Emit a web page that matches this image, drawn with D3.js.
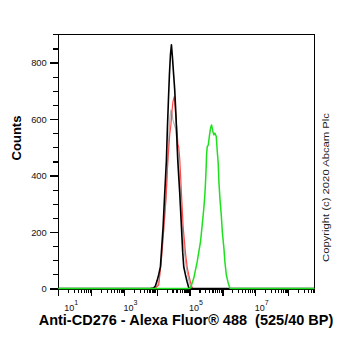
<!DOCTYPE html>
<html><head><meta charset="utf-8">
<script src="https://cdn.jsdelivr.net/npm/d3@7"></script>
<style>body{margin:0;background:#fff} svg{display:block}</style>
</head><body>
<script>
// ---- data ----
const yTickValues = [0, 200, 400, 600, 800];
const xTickExponents = [1, 3, 5, 7];
const xTitle = "Anti-CD276 - Alexa Fluor® 488  (525/40 BP)";
const yTitle = "Counts";
const copyright = "Copyright (c) 2020 Abcam Plc";

const blackX = [10, 5000, 6370, 8040, 9060, 10200, 11400, 12900, 13800, 15600, 17500, 19700, 21100, 22700, 24300, 26100, 28000, 30000, 32200, 35200, 38400, 41200, 43600, 46800, 50100, 56500, 61900, 66500, 75000, 84500, 94600, 106600, 6.3e8];
const blackY = [0, 0, 0, 2, 9, 27, 48, 76, 126, 218, 338, 455, 568, 668, 757, 827, 863, 820, 768, 704, 615, 526, 455, 395, 338, 218, 126, 76, 48, 23, 2, 0, 0];

const redX = [10, 6370, 9060, 11430, 13530, 16260, 19240, 21540, 24790, 26990, 28960, 31050, 34040, 35790, 38370, 41210, 44160, 46770, 50120, 56490, 63680, 74990, 84530, 94620, 106600, 120200, 131600, 6.3e8];
const redY = [0, 0, 2, 12, 90, 207, 324, 445, 544, 579, 625, 661, 679, 650, 604, 562, 510, 500, 460, 338, 218, 126, 76, 48, 23, 2, 0, 0];

const grayX = [10, 6370, 9720, 11590, 13830, 16480, 18970, 21090, 23440, 25170, 26990, 28960, 31050, 34510, 38370, 42660, 47430, 52720, 59810, 69820, 79250, 89330, 99310, 110400, 122700, 6.3e8];
const grayY = [0, 0, 5, 23, 101, 214, 314, 420, 544, 604, 632, 622, 597, 579, 562, 491, 420, 338, 218, 126, 76, 44, 19, 2, 0, 0];

const greenX = [10, 92500, 106600, 134400, 170700, 215400, 242700, 271600, 291700, 306400, 322100, 328900, 345100, 370700, 406100, 435500, 467700, 512100, 549400, 589600, 650300, 698000, 749900, 782200, 839200, 924900, 993100, 1112000, 1191000, 1315000, 1514000, 1694000, 2051000, 6.3e8];
const greenY = [0, 0, 2, 37, 95, 166, 225, 284, 331, 378, 438, 473, 502, 508, 544, 568, 579, 556, 544, 550, 538, 485, 438, 378, 320, 260, 201, 142, 95, 48, 18, 1, 0, 0];

// ---- chart ----
const W = 362, H = 351;
const L = 58.3, R = 314.3, T = 34.3, B = 289.5;
const svg = d3.select("body").append("svg").attr("width", W).attr("height", H)
  .style("font-family", "'Liberation Sans', Arial, sans-serif");

const x = d3.scaleLog().domain([10, Math.pow(10, 8.8)]).range([L, R]);
const y = d3.scaleLinear().domain([0, 900]).range([288.5, T]);

// y axis minor + major
const yMinor = d3.range(0, 901, 50);
const gyMin = svg.append("g").attr("transform", `translate(${L},0)`)
  .call(d3.axisLeft(y).tickValues(yMinor).tickSize(5).tickFormat(""));
const gyMaj = svg.append("g").attr("transform", `translate(${L},0)`)
  .call(d3.axisLeft(y).tickValues(yTickValues).tickSize(8).tickPadding(3.5).tickFormat(d3.format("d")));
[gyMin, gyMaj].forEach(g => {
  g.select(".domain").remove();
  g.selectAll("line").attr("stroke", "#000").attr("stroke-width", 1.2).attr("shape-rendering", "crispEdges");
});
gyMaj.selectAll("text").attr("font-size", 9.4).attr("fill", "#111").attr("font-family", "'Liberation Sans', Arial, sans-serif");

// x axis minor + major
const xMinor = [];
for (let e = 1; e <= 8; e++) for (let m = 2; m <= 9; m++) { const v = m * Math.pow(10, e); if (v <= Math.pow(10, 8.8)) xMinor.push(v); }
const xMajor = d3.range(1, 9).map(e => Math.pow(10, e));
const gxMin = svg.append("g").attr("transform", `translate(0,${B})`)
  .call(d3.axisBottom(x).tickValues(xMinor).tickSize(3.5).tickFormat(""));
const gxMaj = svg.append("g").attr("transform", `translate(0,${B})`)
  .call(d3.axisBottom(x).tickValues(xMajor).tickSize(6).tickFormat(""));
[gxMin, gxMaj].forEach(g => {
  g.select(".domain").remove();
  g.selectAll("line").attr("stroke", "#000").attr("stroke-width", 1.2).attr("shape-rendering", "crispEdges");
});

// frame
const frame = svg.append("g").attr("stroke", "#000").attr("stroke-width", 1.3).attr("shape-rendering", "crispEdges");
frame.append("line").attr("x1", L).attr("x2", L).attr("y1", T).attr("y2", B);
frame.append("line").attr("x1", L).attr("x2", R).attr("y1", B).attr("y2", B);
frame.append("line").attr("x1", L).attr("x2", R).attr("y1", T).attr("y2", T);
frame.append("line").attr("x1", R).attr("x2", R).attr("y1", T).attr("y2", B);

// x tick labels
xTickExponents.forEach(e => {
  const t = svg.append("text").attr("x", x(Math.pow(10, e)) + (e === 1 ? 6 : -0.5)).attr("y", 310.5)
    .attr("font-size", 9).attr("fill", "#111");
  t.append("tspan").text("10");
  t.append("tspan").attr("dy", -5.8).attr("font-size", 7).text(String(e));
});

// curves
const line = d3.line().x(d => x(d[0])).y(d => y(d[1]));
const series = [
  { xs: grayX, ys: grayY, color: "#b4b4b4", w: 1.2 },
  { xs: redX, ys: redY, color: "#ff4a4a", w: 1.2 },
  { xs: blackX, ys: blackY, color: "#000000", w: 1.6 },
  { xs: greenX, ys: greenY, color: "#1ee01e", w: 1.5 }
];
series.forEach(s => {
  svg.append("path").datum(s.xs.map((v, i) => [v, s.ys[i]]))
    .attr("d", line).attr("fill", "none").attr("stroke", s.color)
    .attr("stroke-width", s.w).attr("stroke-linejoin", "round");
});

// titles
svg.append("text").attr("transform", "translate(21,138) rotate(-90)")
  .attr("text-anchor", "middle").attr("font-size", 13).attr("font-weight", "bold").text(yTitle);
svg.append("text").attr("x", 186).attr("y", 325).attr("text-anchor", "middle")
  .attr("font-size", 14.5).attr("font-weight", "bold").style("white-space", "pre").text(xTitle);
svg.append("text").attr("transform", "translate(328.5,187.5) rotate(-90)")
  .attr("text-anchor", "middle").attr("font-size", 8.5).attr("fill", "#222")
  .attr("textLength", 149).attr("lengthAdjust", "spacingAndGlyphs").text(copyright);
</script>
</body></html>
